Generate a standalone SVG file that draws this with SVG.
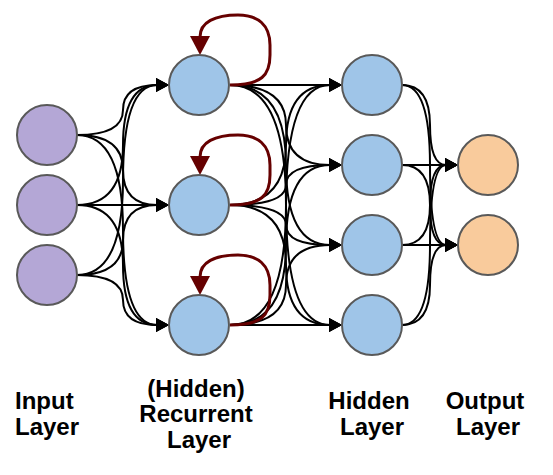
<svg xmlns="http://www.w3.org/2000/svg" width="553" height="475" viewBox="0 0 553 475">
  <style>
    .in { fill: #b4a7d6; stroke: #595959; stroke-width: 2; }
    .rec { fill: #9fc5e8; stroke: #595959; stroke-width: 2; }
    .hid { fill: #9fc5e8; stroke: #595959; stroke-width: 2; }
    .out { fill: #f9cb9c; stroke: #595959; stroke-width: 2; }
    .e { fill: none; stroke: #000000; stroke-width: 2; marker-end: url(#ab); }
    .loop { fill: none; stroke: #660000; stroke-width: 3; marker-end: url(#ar); }
    .lbl { font-family: "Liberation Sans", Arial, sans-serif; font-weight: bold; font-size: 24px; fill: #000000; }
  </style>
  <defs>
    <marker id="ab" markerUnits="userSpaceOnUse" markerWidth="15" markerHeight="15" refX="1" refY="7" orient="auto">
      <path d="M0,0 L13,7 L0,14 z" fill="#000000"/>
    </marker>
    <marker id="ar" markerUnits="userSpaceOnUse" markerWidth="21" markerHeight="21" refX="1" refY="10" orient="auto">
      <path d="M0,0 L19,10 L0,20 z" fill="#660000"/>
    </marker>
  </defs>
  <rect width="553" height="475" fill="#ffffff"/>
  <g id="connectors">
    <!-- input to recurrent -->
    <path class="e" d="M77,135 Q123,135 123,110 Q123,85 157,85"/>
    <path class="e" d="M77,135 Q123,135 123,170 Q123,205 157,205"/>
    <path class="e" d="M77,135 Q123,135 123,230 Q123,325 157,325"/>
    <path class="e" d="M77,205 Q123,205 123,145 Q123,85 157,85"/>
    <path class="e" d="M77,205 L157,205"/>
    <path class="e" d="M77,205 Q123,205 123,265 Q123,325 157,325"/>
    <path class="e" d="M77,275 Q123,275 123,180 Q123,85 157,85"/>
    <path class="e" d="M77,275 Q123,275 123,240 Q123,205 157,205"/>
    <path class="e" d="M77,275 Q123,275 123,300 Q123,325 157,325"/>
    <!-- recurrent to hidden -->
    <path class="e" d="M230,85 L330,85"/>
    <path class="e" d="M230,85 Q286,85 286,125 Q286,165 330,165"/>
    <path class="e" d="M230,85 Q286,85 286,165 Q286,245 330,245"/>
    <path class="e" d="M230,85 Q286,85 286,205 Q286,325 330,325"/>
    <path class="e" d="M230,205 Q286,205 286,145 Q286,85 330,85"/>
    <path class="e" d="M230,205 Q286,205 286,185 Q286,165 330,165"/>
    <path class="e" d="M230,205 Q286,205 286,225 Q286,245 330,245"/>
    <path class="e" d="M230,205 Q286,205 286,265 Q286,325 330,325"/>
    <path class="e" d="M230,325 Q286,325 286,205 Q286,85 330,85"/>
    <path class="e" d="M230,325 Q286,325 286,245 Q286,165 330,165"/>
    <path class="e" d="M230,325 Q286,325 286,285 Q286,245 330,245"/>
    <path class="e" d="M230,325 L330,325"/>
    <!-- hidden to output -->
    <path class="e" d="M402,85 Q430,85 430,125 Q430,165 446,165"/>
    <path class="e" d="M402,85 Q430,85 430,165 Q430,245 446,245"/>
    <path class="e" d="M402,165 L446,165"/>
    <path class="e" d="M402,165 Q430,165 430,205 Q430,245 446,245"/>
    <path class="e" d="M402,245 Q430,245 430,205 Q430,165 446,165"/>
    <path class="e" d="M402,245 L446,245"/>
    <path class="e" d="M402,325 Q430,325 430,245 Q430,165 446,165"/>
    <path class="e" d="M402,325 Q430,325 430,285 Q430,245 446,245"/>
    <!-- recurrent self loops -->
    <path class="loop" d="M230,85 C262,85 270,75 270,55 L270,45 C270,25 258,15 238,15 C215,15 200,22 200,37"/>
    <path class="loop" d="M230,205 C262,205 270,195 270,175 L270,165 C270,145 258,135 238,135 C215,135 200,142 200,157"/>
    <path class="loop" d="M230,325 C262,325 270,315 270,295 L270,285 C270,265 258,255 238,255 C215,255 200,262 200,277"/>
  </g>
  <g id="input1"><circle class="in" cx="47" cy="135" r="30"/></g>
  <g id="input2"><circle class="in" cx="47" cy="205" r="30"/></g>
  <g id="input3"><circle class="in" cx="47" cy="275" r="30"/></g>
  <g id="recurrent1"><circle class="rec" cx="199" cy="85" r="30"/></g>
  <g id="recurrent2"><circle class="rec" cx="199" cy="205" r="30"/></g>
  <g id="recurrent3"><circle class="rec" cx="199" cy="325" r="30"/></g>
  <g id="hidden1"><circle class="hid" cx="372" cy="85" r="30"/></g>
  <g id="hidden2"><circle class="hid" cx="372" cy="165" r="30"/></g>
  <g id="hidden3"><circle class="hid" cx="372" cy="245" r="30"/></g>
  <g id="hidden4"><circle class="hid" cx="372" cy="325" r="30"/></g>
  <g id="output1"><circle class="out" cx="488" cy="165" r="30"/></g>
  <g id="output2"><circle class="out" cx="488" cy="245" r="30"/></g>
  <g id="label-input">
    <text class="lbl" x="15" y="409">Input</text>
    <text class="lbl" x="15" y="435">Layer</text>
  </g>
  <g id="label-recurrent">
    <text class="lbl" x="196" y="397" text-anchor="middle">(Hidden)</text>
    <text class="lbl" x="196" y="422" text-anchor="middle">Recurrent</text>
    <text class="lbl" x="199" y="448" text-anchor="middle">Layer</text>
  </g>
  <g id="label-hidden">
    <text class="lbl" x="369" y="409" text-anchor="middle">Hidden</text>
    <text class="lbl" x="372" y="435" text-anchor="middle">Layer</text>
  </g>
  <g id="label-output">
    <text class="lbl" x="485" y="409" text-anchor="middle">Output</text>
    <text class="lbl" x="488" y="435" text-anchor="middle">Layer</text>
  </g>
</svg>
